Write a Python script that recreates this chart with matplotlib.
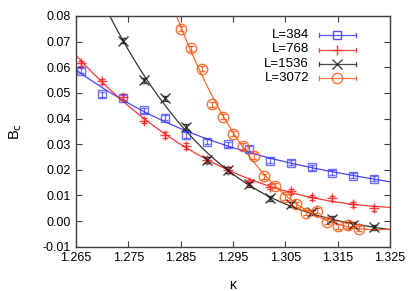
import numpy as np
import matplotlib
matplotlib.use("Agg")
import matplotlib.pyplot as plt

plt.rcParams['font.family'] = ['Liberation Sans', 'DejaVu Sans']

# Data
k384 = [1.266, 1.270, 1.274, 1.278, 1.282, 1.286, 1.290, 1.294, 1.298, 1.302, 1.306, 1.310, 1.314, 1.318, 1.322]
b384 = [0.0587, 0.0494, 0.0481, 0.0433, 0.0403, 0.0336, 0.0310, 0.0299, 0.0283, 0.0235, 0.0228, 0.0210, 0.0189, 0.0177, 0.0165]

k768 = [1.266, 1.270, 1.274, 1.278, 1.282, 1.286, 1.290, 1.294, 1.298, 1.302, 1.306, 1.310, 1.314, 1.318, 1.322]
b768 = [0.0615, 0.0546, 0.0484, 0.0392, 0.0336, 0.0293, 0.0238, 0.0199, 0.0152, 0.0134, 0.0116, 0.0093, 0.0089, 0.0066, 0.0050]

k1536 = [1.274, 1.278, 1.282, 1.286, 1.290, 1.294, 1.298, 1.302, 1.306, 1.310, 1.314, 1.318, 1.322]
b1536 = [0.0704, 0.0550, 0.0479, 0.0367, 0.0238, 0.0199, 0.0143, 0.0089, 0.0065, 0.0034, 0.0008, -0.0015, -0.0024]

k3072 = [1.285, 1.287, 1.289, 1.291, 1.293, 1.295, 1.297, 1.299, 1.301, 1.303, 1.305, 1.307, 1.309, 1.311, 1.313, 1.315, 1.317, 1.319]
b3072 = [0.0751, 0.0674, 0.0594, 0.0455, 0.0407, 0.0341, 0.0293, 0.0254, 0.0175, 0.0138, 0.0094, 0.0065, 0.0033, 0.0040, -0.0003, -0.0021, -0.0016, -0.0030]

err = 0.0010
labels = ["L=384", "L=768", "L=1536", "L=3072"]
colors = ["#3434ff", "#ff2020", "#202020", "#ff5a14"]
markers = ["s", "+", "x", "o"]
msizes = [6, 6.5, 6.5, 7.5]
alphas = [0.7, 0.85, 0.85, 0.85]

xticks = [1.265, 1.275, 1.285, 1.295, 1.305, 1.315, 1.325]
yticks = [-0.01, 0.00, 0.01, 0.02, 0.03, 0.04, 0.05, 0.06, 0.07, 0.08]

W, H = 415, 291
x0, x1, ytop, ybot = 76, 390, 16, 246.7
fig = plt.figure(figsize=(W/100, H/100), dpi=100)
ax = fig.add_axes([x0/W, 1-ybot/H, (x1-x0)/W, (ybot-ytop)/H])

series = [(k384, b384), (k768, b768), (k1536, b1536), (k3072, b3072)]
xs = np.linspace(1.265, 1.325, 400)
for (k, b), c, m, ms, a in zip(series, colors, markers, msizes, alphas):
    k = np.array(k); b = np.array(b)
    coef = np.polyfit(k - 1.295, b, 3)
    ax.plot(xs, np.polyval(coef, xs - 1.295), color=c, lw=0.9, alpha=0.9)
    ax.errorbar(k, b, yerr=err, fmt=m, color=c, ms=ms, mfc='none', mew=1.0,
                elinewidth=0.9, capsize=2, capthick=0.9, alpha=a)

ax.set_xlim(1.265, 1.325)
ax.set_ylim(-0.01, 0.08)
ax.set_xticks(xticks)
ax.set_xticklabels(["%.3f" % v for v in xticks])
ax.set_yticks(yticks)
ax.set_yticklabels(["%.2f" % v for v in yticks])
ax.tick_params(direction='in', length=4, width=0.8, labelsize=9, top=True, right=True, pad=4,
               colors='#404040', labelcolor='black')
for s in ax.spines.values():
    s.set_linewidth(1.0)
    s.set_color('#404040')

ax.set_xlabel("κ", fontsize=10, labelpad=10)
ax.set_ylabel("B$_\\mathrm{c}$", fontsize=10.5, labelpad=13)

# Manual gnuplot-style legend (axes-fraction coordinates from pixel positions)
def fx(px):
    return (px - x0) / (x1 - x0)
def fy(py):
    return (ybot - py) / (ybot - ytop)

rows = [35, 49.5, 63.8, 78.3]
for lab, c, m, ms, py in zip(labels, colors, markers, msizes, rows):
    ax.text(fx(309), fy(py), lab, transform=ax.transAxes, ha='right', va='center', fontsize=9.5)
    ax.plot([fx(318.5), fx(355.5)], [fy(py), fy(py)], transform=ax.transAxes, color=c, lw=0.9, alpha=0.8, clip_on=False)
    for ex in (318.5, 355.5):
        ax.plot([fx(ex), fx(ex)], [fy(py - 2), fy(py + 2)], transform=ax.transAxes, color=c, lw=0.9, alpha=0.8, clip_on=False)
    ax.plot([fx(337)], [fy(py)], transform=ax.transAxes, marker=m, ms=ms, mfc='none', mew=1.0, color=c, alpha=0.85, clip_on=False)

fig.savefig("out.png", dpi=100)
